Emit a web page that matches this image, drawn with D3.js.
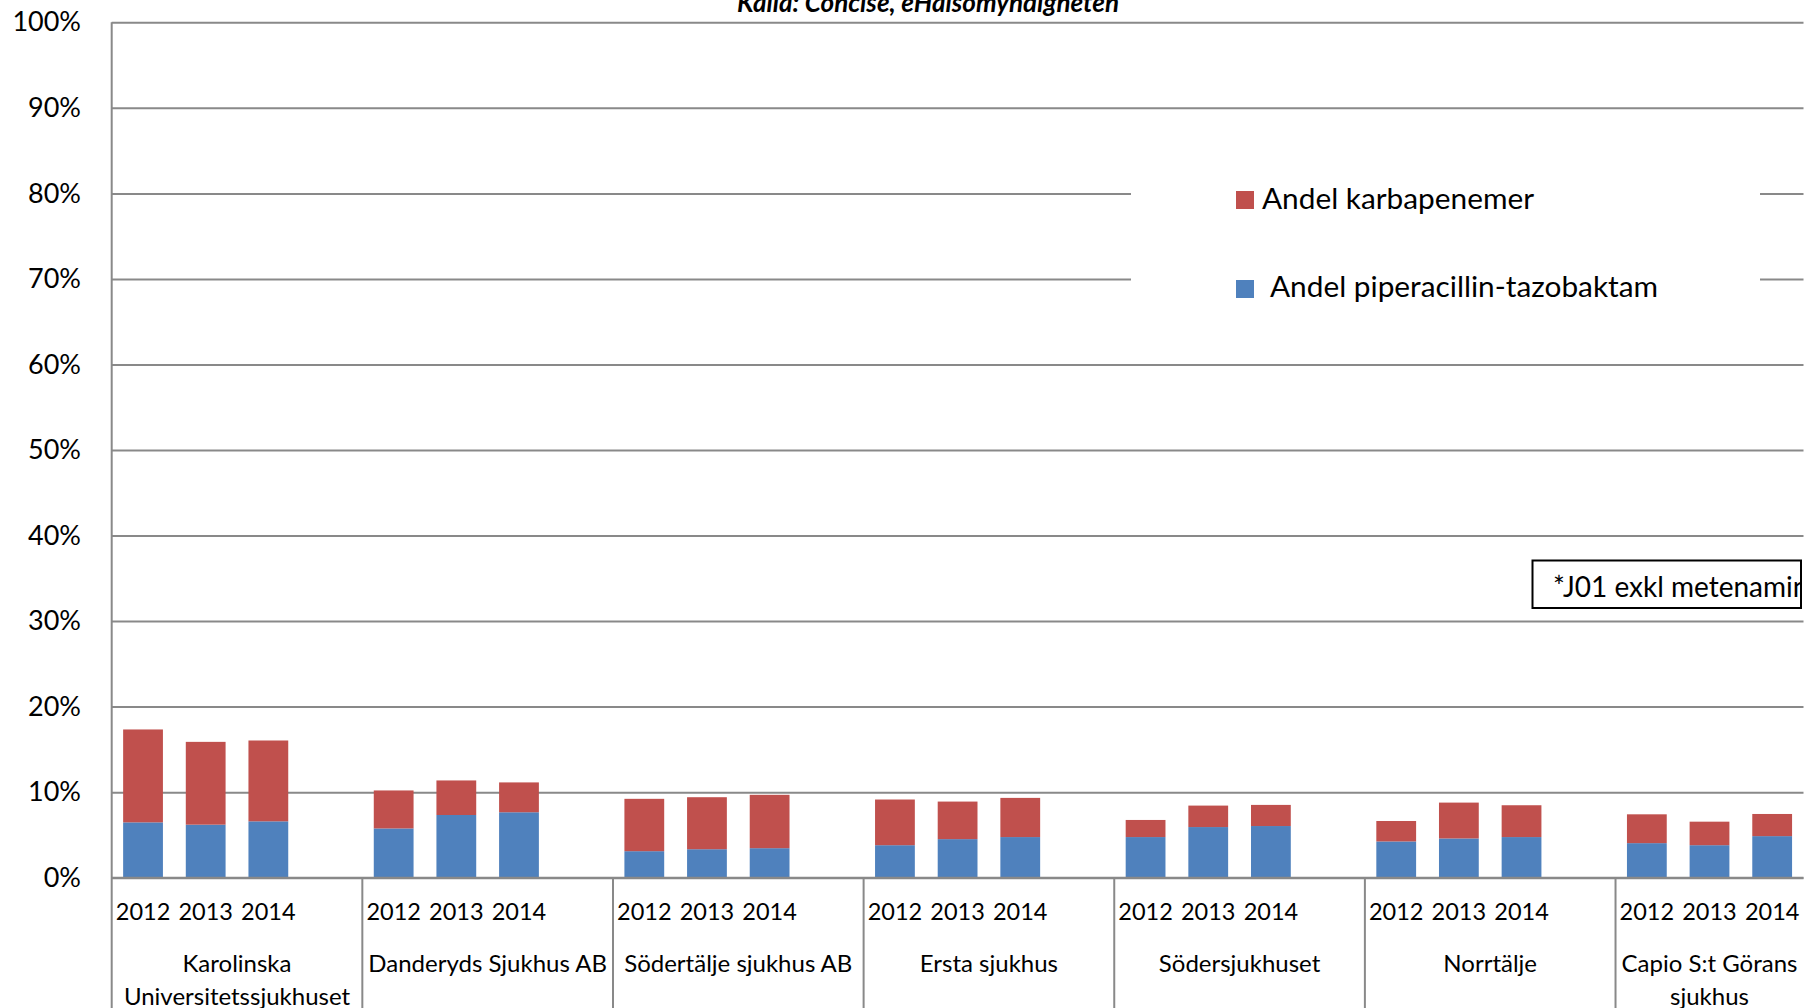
<!DOCTYPE html>
<html>
<head>
<meta charset="utf-8">
<script src="https://d3js.org/d3.v7.min.js"></script>
<style>
  html, body { margin: 0; padding: 0; background: #fff; overflow: hidden; }
  svg { display: block; font-family: Lato, "Open Sans", sans-serif; }
</style>
</head>
<body>
<svg width="1804" height="1008"></svg>
<script>
// Data (andel av J01, procent)
var hospitals = [
  ["Karolinska", "Universitetssjukhuset"],
  ["Danderyds Sjukhus AB"],
  ["Södertälje sjukhus AB"],
  ["Ersta sjukhus"],
  ["Södersjukhuset"],
  ["Norrtälje"],
  ["Capio S:t Görans", "sjukhus"]
];
var years = ["2012", "2013", "2014"];

// Andel piperacillin-tazobaktam (blue, bottom)
var pipTazo = [
  [6.47, 6.20, 6.59],
  [5.76, 7.33, 7.65],
  [3.10, 3.33, 3.45],
  [3.80, 4.51, 4.75],
  [4.75, 5.92, 6.04],
  [4.24, 4.59, 4.75],
  [4.04, 3.80, 4.86]
];

// Andel karbapenemer (red, stacked on top)
var karba = [
  [10.86, 9.68, 9.45],
  [4.44, 4.04, 3.49],
  [6.12, 6.08, 6.24],
  [5.34, 4.39, 4.58],
  [2.00, 2.51, 2.47],
  [2.39, 4.19, 3.72],
  [3.37, 2.75, 2.59]
];

var yTicks = [0, 10, 20, 30, 40, 50, 60, 70, 80, 90, 100];
var seriesNames = ["Andel karbapenemer", "Andel piperacillin-tazobaktam"];
var colors = { karba: "#C0504D", pip: "#4F81BD" };
var gridColor = "#898989";

var svg = d3.select("svg");

// Plot area
var plotLeft = 111.7, plotRight = 1803.5, plotTop = 22.3, plotBottom = 877.7;

// one slot per year, plus an empty slot between hospitals
var slots = [];
hospitals.forEach(function(h, i) {
  years.forEach(function(yr) { slots.push(i + "-" + yr); });
  if (i < hospitals.length - 1) slots.push(i + "-blank");
});

var x = d3.scaleBand()
    .domain(slots)
    .range([plotLeft, plotRight])
    .paddingInner(0.365)
    .paddingOuter(0.1825);

var y = d3.scaleLinear()
    .domain([0, 100])
    .range([plotBottom, plotTop]);

// Gridlines + y labels
var yAxis = d3.axisLeft(y)
    .tickValues(yTicks)
    .tickSize(-(plotRight - plotLeft))
    .tickPadding(30)
    .tickFormat(function(d) { return d + "%"; });

var gy = svg.append("g")
    .attr("transform", "translate(" + plotLeft + ",0)")
    .call(yAxis);
gy.select(".domain").remove();
gy.selectAll(".tick line")
    .attr("stroke", gridColor)
    .attr("stroke-width", 2);
gy.selectAll(".tick text")
    .attr("x", 81 - plotLeft)
    .attr("font-size", 27)
    .attr("fill", "#000")
    .attr("font-family", "Lato, sans-serif");

// Stacked bars
var rows = [];
hospitals.forEach(function(h, i) {
  years.forEach(function(yr, j) {
    rows.push({ key: i + "-" + yr, pip: pipTazo[i][j], karba: karba[i][j] });
  });
});

var stacked = d3.stack().keys(["pip", "karba"])(rows);

svg.append("g")
  .selectAll("g")
  .data(stacked)
  .enter()
  .append("g")
    .attr("fill", function(d) { return colors[d.key]; })
  .selectAll("rect")
  .data(function(d) { return d; })
  .enter()
  .append("rect")
    .attr("x", function(d) { return x(d.data.key); })
    .attr("width", x.bandwidth())
    .attr("y", function(d) { return y(d[1]); })
    .attr("height", function(d) { return y(d[0]) - y(d[1]); });

// Axis lines
svg.append("line")
    .attr("x1", plotLeft).attr("x2", plotLeft)
    .attr("y1", plotTop).attr("y2", 1008)
    .attr("stroke", gridColor).attr("stroke-width", 2);
svg.append("line")
    .attr("x1", plotLeft).attr("x2", plotRight)
    .attr("y1", plotBottom).attr("y2", plotBottom)
    .attr("stroke", gridColor).attr("stroke-width", 2);

// Year labels
svg.append("g")
  .selectAll("text")
  .data(rows)
  .enter()
  .append("text")
    .attr("x", function(d) { return x(d.key) + x.bandwidth() / 2; })
    .attr("y", 920)
    .attr("text-anchor", "middle")
    .attr("font-size", 23.5)
    .text(function(d) { return d.key.split("-")[1]; });

// Group separators and hospital names
var step = x.step();
hospitals.forEach(function(h, i) {
  var gx0 = plotLeft + i * 4 * step;
  var gx1 = Math.min(gx0 + 4 * step, plotRight);
  if (gx1 < plotRight) {
    svg.append("line")
        .attr("x1", gx1).attr("x2", gx1)
        .attr("y1", plotBottom).attr("y2", 1008)
        .attr("stroke", gridColor).attr("stroke-width", 2);
  }
  var t = svg.append("text")
      .attr("y", 971.7)
      .attr("text-anchor", "middle")
      .attr("font-size", 24);
  h.forEach(function(line, k) {
    t.append("tspan")
        .attr("x", (gx0 + gx1) / 2)
        .attr("dy", k === 0 ? 0 : 33)
        .text(line);
  });
});

// Title (cut off at the top in the original)
svg.append("text")
    .attr("x", 928)
    .attr("y", 11.7)
    .attr("text-anchor", "middle")
    .attr("font-size", 26)
    .attr("font-weight", "bold")
    .attr("font-style", "italic")
    .text("Källa: Concise, eHälsomyndigheten");

// Legend
var legend = svg.append("g");
legend.append("rect")
    .attr("x", 1131).attr("y", 140)
    .attr("width", 629).attr("height", 200)
    .attr("fill", "#fff");

var legendItems = [
  { name: seriesNames[0], color: colors.karba, sy: 191, ty: 209, tx: 1262 },
  { name: seriesNames[1], color: colors.pip, sy: 280, ty: 297, tx: 1270 }
];
legendItems.forEach(function(d) {
  legend.append("rect")
      .attr("x", 1236).attr("y", d.sy)
      .attr("width", 18).attr("height", 18)
      .attr("fill", d.color);
  legend.append("text")
      .attr("x", d.tx).attr("y", d.ty)
      .attr("font-size", 29.8)
      .text(d.name);
});

// Note box
svg.append("clipPath")
    .attr("id", "noteClip")
  .append("rect")
    .attr("x", 1532).attr("y", 560)
    .attr("width", 269).attr("height", 48);
svg.append("rect")
    .attr("x", 1532.5).attr("y", 560.5)
    .attr("width", 268.5).attr("height", 47.5)
    .attr("fill", "#fff");
svg.append("text")
    .attr("x", 1553).attr("y", 597)
    .attr("font-size", 28)
    .attr("clip-path", "url(#noteClip)")
    .text("*J01 exkl metenamin");
svg.append("rect")
    .attr("x", 1532.5).attr("y", 560.5)
    .attr("width", 268.5).attr("height", 47.5)
    .attr("fill", "none")
    .attr("stroke", "#000")
    .attr("stroke-width", 2);
</script>
</body>
</html>
